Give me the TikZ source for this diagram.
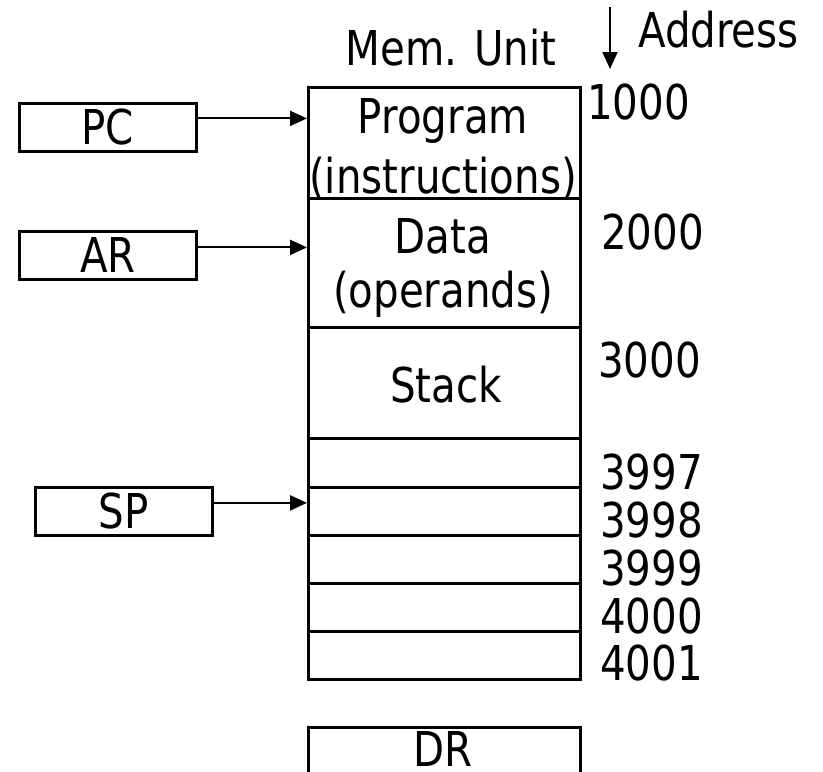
\documentclass[tikz,border=0pt]{standalone}
\usepackage{fontspec}
\setmainfont{DejaVu Sans}[FakeStretch=0.84]
\usetikzlibrary{arrows.meta}

\begin{document}
\begin{tikzpicture}[x=1pt,y=-1pt,
  txt/.style={font=\fontsize{48}{56}\selectfont, inner sep=0pt},
  region/.style={draw, line width=2.8pt, inner sep=0pt, anchor=north west,
                 minimum width=272pt},
  reg/.style={draw, line width=2.8pt, inner sep=0pt, anchor=north west,
              minimum width=177pt, minimum height=48pt,
              font=\fontsize{48}{56}\selectfont},
  ptr/.style={line width=2pt, -{Triangle[length=17pt,width=15pt]}},
  addr/.style={txt, anchor=base west}]
\clip (0,0) rectangle (823,772);
\useasboundingbox (0,0) rectangle (823,772);

% headings
\node[txt, anchor=base] (memunit) at (451,65) {Mem. Unit};
\node[txt, anchor=base west] (address) at (638,47) {Address};
\coordinate (atop) at (610,7);
\coordinate (abot) at (610,69);
\draw[ptr] (atop) -- (abot);

% memory unit
\node[region, minimum height=111pt] (prog)  at (307,86)  {};
\node[region, minimum height=129pt] (data)  at (307,197) {};
\node[region, minimum height=111pt] (stack) at (307,326) {};
\node[region, minimum height=49pt]  (c1) at (307,437) {};
\node[region, minimum height=48pt]  (c2) at (307,486) {};
\node[region, minimum height=48pt]  (c3) at (307,534) {};
\node[region, minimum height=48pt]  (c4) at (307,582) {};
\node[region, minimum height=48pt]  (c5) at (307,630) {};

\node[txt, anchor=base] (tprog)  at (443,133) {Program};
\node[txt, anchor=base] (tinst)  at (443,193) {(instructions)};
\node[txt, anchor=base] (tdata)  at (443,253) {Data};
\node[txt, anchor=base] (toper)  at (443,307) {(operands)};
\node[txt, anchor=base] (tstack) at (446,402) {Stack};

% addresses
\node[addr] (a1000) at (587,119) {1000};
\node[addr] (a2000) at (601,249) {2000};
\node[addr] (a3000) at (598,377) {3000};
\node[addr] (a3997) at (600,489) {3997};
\node[addr] (a3998) at (600,537) {3998};
\node[addr] (a3999) at (600,585) {3999};
\node[addr] (a4000) at (600,633) {4000};
\node[addr] (a4001) at (600,680) {4001};

% registers
\node[reg] (pc) at (18,102) {PC};
\node[reg] (ar) at (18,230) {AR};
\node[reg] (sp) at (34,486) {SP};
\node[region, minimum height=70pt] (dr) at (307,726) {};
\node[txt, anchor=base, text depth=0pt] (tdr) at (443,766) {DR};

% pointers into memory
\draw[ptr] ([yshift=9pt]pc.east) -- ([yshift=9pt]pc.east -| prog.west);
\draw[ptr] ([yshift=8pt]ar.east) -- ([yshift=8pt]ar.east -| data.west);
\draw[ptr] ([yshift=8.5pt]sp.east) -- ([yshift=8.5pt]sp.east -| c2.west);
\end{tikzpicture}
\end{document}
